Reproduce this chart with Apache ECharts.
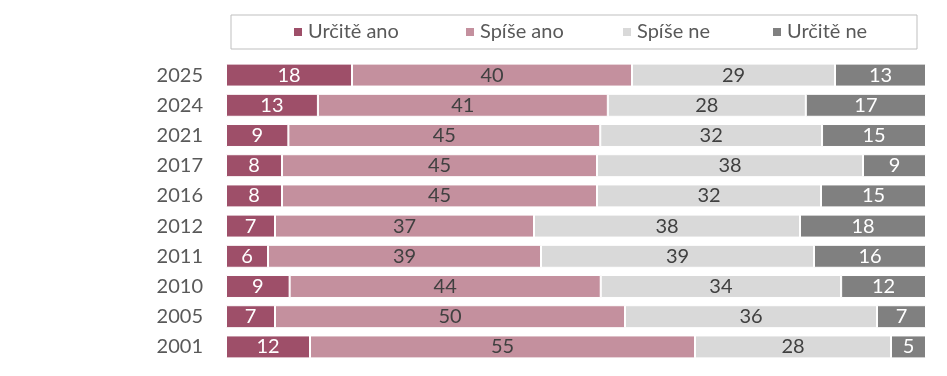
<!DOCTYPE html>
<html>
<head>
<meta charset="utf-8">
<script src="https://cdn.jsdelivr.net/npm/echarts@6/dist/echarts.min.js"></script>
<style>
  html, body { margin: 0; padding: 0; background: #fff; }
  #chart { width: 947px; height: 376px; }
</style>
</head>
<body>
<div id="chart"></div>
<script>
const years = ["2025", "2024", "2021", "2017", "2016", "2012", "2011", "2010", "2005", "2001"];
const seriesNames = ["Určitě ano", "Spíše ano", "Spíše ne", "Určitě ne"];
const urciteAno = [18, 13, 9, 8, 8, 7, 6, 9, 7, 12];
const spiseAno = [40, 41, 45, 45, 45, 37, 39, 44, 50, 55];
const spiseNe = [29, 28, 32, 38, 32, 38, 39, 34, 36, 28];
const urciteNe = [13, 17, 15, 9, 15, 18, 16, 12, 7, 5];

const colors = ["#9e4f69", "#c4909e", "#d9d9d9", "#808080"];
const labelColors = ["#ffffff", "#404040", "#404040", "#ffffff"];
const legendLeft = [292, 464, 621, 771];
const font = "Lato, 'Open Sans', sans-serif";

// bars fill 100% of the width, like an Excel 100% stacked bar
const raw = [urciteAno, spiseAno, spiseNe, urciteNe];
const totals = years.map((_, i) => raw.reduce((s, arr) => s + arr[i], 0));

const chart = echarts.init(document.getElementById("chart"));
chart.setOption({
  animation: false,
  grid: { left: 226, right: 21, top: 60, bottom: 14 },
  graphic: [
    {
      type: "rect",
      shape: { x: 231, y: 15, width: 686, height: 34 },
      style: { fill: "none", stroke: "#bfbfbf", lineWidth: 1 },
    },
  ],
  // one legend per item so the slots sit where Excel put them
  legend: seriesNames.map((name, k) => ({
    data: [name],
    left: legendLeft[k],
    top: 22,
    padding: 0,
    itemWidth: 10,
    itemHeight: 10,
    itemGap: 0,
    icon: "rect",
    textStyle: { color: "#595959", fontSize: 20, fontFamily: font },
  })),
  xAxis: {
    type: "value",
    min: 0,
    max: 100,
    show: false,
  },
  yAxis: {
    type: "category",
    data: years,
    inverse: true,
    axisLine: { show: false },
    axisTick: { show: false },
    axisLabel: { color: "#595959", fontSize: 20, fontFamily: font, margin: 23 },
  },
  series: raw.map((arr, k) => ({
    name: seriesNames[k],
    type: "bar",
    stack: "all",
    barWidth: "76%",
    data: arr.map((v, i) => ({ value: (v / totals[i]) * 100, raw: v })),
    itemStyle: { color: colors[k], borderColor: "#ffffff", borderWidth: 1 },
    label: {
      show: true,
      position: "inside",
      color: labelColors[k],
      fontSize: 20,
      fontFamily: font,
      formatter: (p) => p.data.raw,
    },
  })),
});
</script>
</body>
</html>
